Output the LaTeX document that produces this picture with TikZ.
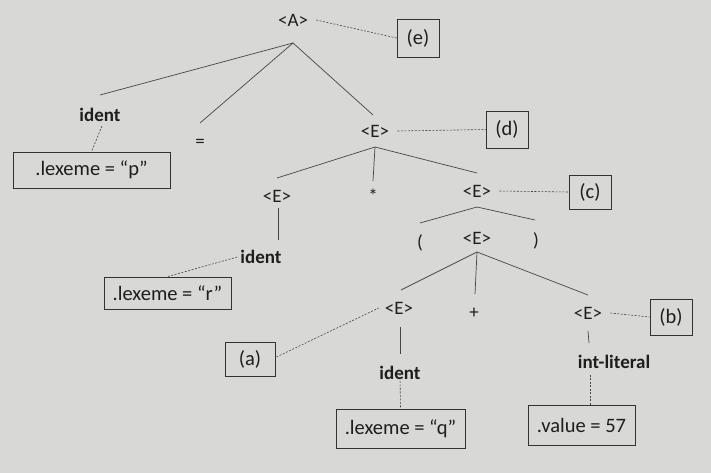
\documentclass[tikz,border=0pt]{standalone}
\usepackage{fontspec}
\setmainfont{Carlito}
\definecolor{bg}{RGB}{216,216,214}
\definecolor{txt}{RGB}{30,30,30}
\definecolor{linec}{RGB}{70,70,70}
\definecolor{boxc}{RGB}{50,50,50}
\begin{document}
\begin{tikzpicture}[x=1pt,y=-1pt,
  lbl/.style={inner sep=0pt, text=txt, font=\fontsize{19}{22}\selectfont},
  term/.style={inner sep=0pt, text=txt, font=\fontsize{19}{22}\selectfont\bfseries},
  attrbox/.style={draw=boxc, line width=0.8pt, inner sep=0pt, text=txt,
    font=\fontsize{20.5}{24}\selectfont, minimum width=#1},
  edge/.style={draw=linec, line width=0.7pt},
  note/.style={draw=linec, line width=0.6pt, dash pattern=on 2pt off 1.5pt}]
\useasboundingbox (0,0) rectangle (711,473);
\fill[bg] (0,0) rectangle (711,473);

% ---------- nodes ----------
\node[lbl]  (A)   at (293,20)  {<A>};
\node[term] (id1) at (100,115) {ident};
\node[lbl]  (eq)  at (200,143) {=};
\node[lbl]  (Ed)  at (375,131) {<E>};
\node[lbl]  (El)  at (277,196) {<E>};
\node[lbl]  (st)  at (373,196) {*};
\node[lbl]  (Ec)  at (477,191) {<E>};
\node[term] (id2) at (261,257) {ident};
\node[lbl]  (lp)  at (420,243) {(};
\node[lbl]  (Em)  at (477,238) {<E>};
\node[lbl]  (rp)  at (536,241) {)};
\node[lbl]  (Ea)  at (399,308) {<E>};
\node[lbl]  (pl)  at (474,313) {+};
\node[lbl]  (Eb)  at (588,313) {<E>};
\node[term] (id3) at (400,373) {ident};
\node[term] (il)  at (614,362) {int-literal};

\node[attrbox=157pt, minimum height=36pt] (bp) at (91.5,170)  {.lexeme = “p”};
\node[attrbox=127pt, minimum height=32pt] (br) at (167.5,293) {.lexeme = “r”};
\node[attrbox=129pt, minimum height=39pt] (bq) at (400.5,428.5) {.lexeme = “q”};
\node[attrbox=107pt, minimum height=40pt] (bv) at (581.5,425) {.value = 57};

\node[attrbox=50pt, minimum height=34pt] (la) at (250,359)   {(a)};
\node[attrbox=42pt, minimum height=36pt] (lb) at (671,317)   {(b)};
\node[attrbox=42pt, minimum height=34pt] (lc) at (590,192)   {(c)};
\node[attrbox=42pt, minimum height=37pt] (ld) at (507,129.5) {(d)};
\node[attrbox=42pt, minimum height=38pt] (le) at (418,38)    {(e)};

% ---------- connector end points ----------
\coordinate (Ab)  at (293,43);
\coordinate (id1t) at (100,95);
\coordinate (eqt) at (200,123);
\coordinate (Edt) at (373,115);
\coordinate (Edb) at (375,147);
\coordinate (Elt) at (277,178);
\coordinate (stt) at (373,181);
\coordinate (Ect) at (477,173);
\coordinate (Elb) at (278,208);
\coordinate (id2t) at (278,240);
\coordinate (Ecb) at (477,207);
\coordinate (lpt) at (420,223);
\coordinate (rpt) at (535,220);
\coordinate (Emb) at (477,252);
\coordinate (Eat) at (401,290);
\coordinate (plt) at (475,294);
\coordinate (Ebt) at (588,295);
\coordinate (Eab) at (400,327);
\coordinate (id3t) at (400,354);
\coordinate (Ebb) at (588,331);
\coordinate (ilt) at (589,343);

% ---------- tree edges ----------
\draw[edge] (Ab) -- (id1t);
\draw[edge] (Ab) -- (eqt);
\draw[edge] (Ab) -- (Edt);
\draw[edge] (Edb) -- (Elt);
\draw[edge] (Edb) -- (stt);
\draw[edge] (Edb) -- (Ect);
\draw[edge] (Elb) -- (id2t);
\draw[edge] (Ecb) -- (lpt);
\draw[edge] (Ecb) -- (rpt);
\draw[edge] (Emb) -- (Eat);
\draw[edge] (Emb) -- (plt);
\draw[edge] (Emb) -- (Ebt);
\draw[edge] (Eab) -- (id3t);
\draw[edge] (Ebb) -- (ilt);

% ---------- dashed annotations ----------
\draw[note] ([shift={(2,4)}]id1.south) -- (bp.north);
\draw[note] ([xshift=-3pt]id2.west) -- (br.north);
\draw[note] ([yshift=6pt]id3.south) -- (bq.north);
\draw[note] ([shift={(-24,6)}]il.south) -- ([xshift=8.5pt]bv.north);
\draw[note] ([xshift=8pt]A.east) -- (le.west);
\draw[note] ([xshift=8pt]Ed.east) -- (ld.west);
\draw[note] ([xshift=8pt]Ec.east) -- (lc.west);
\draw[note] ([xshift=8pt]Eb.east) -- (lb.west);
\draw[note] ([shift={(1,-2)}]la.east) -- ([xshift=-6pt]Ea.west);
\end{tikzpicture}
\end{document}
